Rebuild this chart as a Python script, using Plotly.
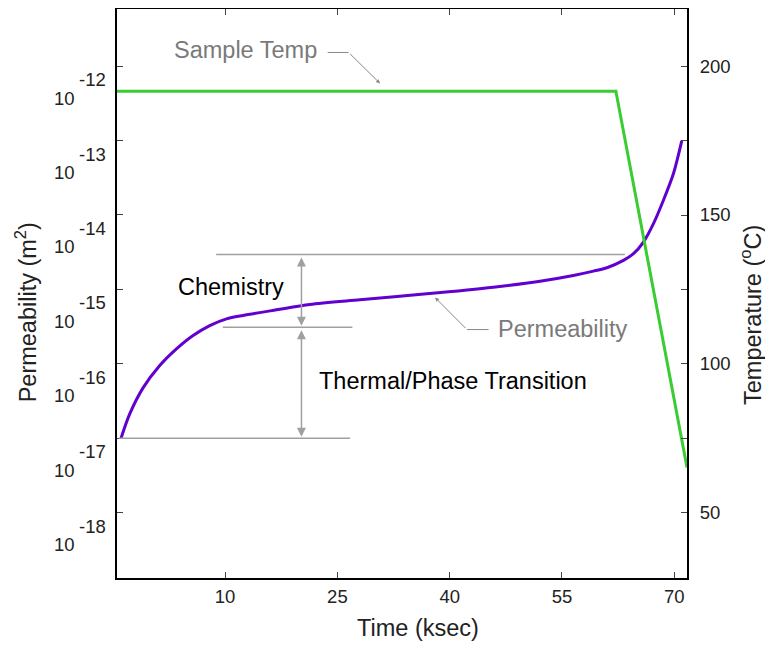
import plotly.graph_objects as go

# ---- data ----
time_perm = [-3.9, -2.74, -0.96, 1.27, 3.50, 5.72, 7.95, 10.19, 12.40, 16.87, 21.32, 28.0,
             36.92, 45.83, 52.07, 56.52, 59.2, 61.0, 63.21, 64.55, 65.88, 67.22, 68.55, 69.89, 71.0]
perm_log10 = [-17.0, -16.674, -16.324, -16.024, -15.80, -15.62, -15.486, -15.396, -15.35, -15.275,
              -15.203, -15.14, -15.06, -14.97, -14.89, -14.813, -14.755, -14.709, -14.611, -14.521,
              -14.365, -14.117, -13.803, -13.444, -13.005]
permeability = [10 ** v for v in perm_log10]

time_temp = [-4.44, 62.2, 71.7]
temperature = [191.6, 191.6, 65.2]

x_ticks = [10, 25, 40, 55, 70]
perm_tick_exps = [-18, -17, -16, -15, -14, -13, -12]
temp_ticks = [50, 75, 100, 125, 150, 175, 200]

# guide levels (log10 of permeability)
lvl_top = -14.53
lvl_mid = -15.51
lvl_bot = -17.0

FONT = "Liberation Sans, Arial, Helvetica, sans-serif"
GRAY = "#a0a0a0"
TGRAY = "#7a7a7a"
INK = "#222222"
TICK_SIZE = 18.5

fig = go.Figure()
fig.add_trace(go.Scatter(x=time_perm, y=permeability, mode="lines", yaxis="y",
                         line=dict(color="#6200CF", width=3, shape="spline", smoothing=0.8),
                         hoverinfo="skip", showlegend=False))
fig.add_trace(go.Scatter(x=time_temp, y=temperature, mode="lines", yaxis="y2",
                         line=dict(color="#3ACC33", width=3),
                         hoverinfo="skip", showlegend=False))

ann = []
def seg(x0, y0, x1, y1, yref="y", head=0, side="end", size=1, width=1.5, color=GRAY):
    ann.append(dict(x=x1, y=y1, ax=x0, ay=y0, xref="x", yref=yref, axref="x", ayref=yref,
                    text="", showarrow=True, arrowhead=head, arrowside=side,
                    arrowsize=size, arrowwidth=width, arrowcolor=color))

# horizontal guides
seg(8.6, lvl_top, 63.4, lvl_top)
seg(9.5, lvl_mid, 27.0, lvl_mid)
seg(-4.4, lvl_bot, 26.7, lvl_bot)
# double arrows
seg(20.2, lvl_top - 0.02, 20.2, lvl_mid + 0.02, head=2, side="end+start", size=1.2)
seg(20.2, lvl_mid - 0.02, 20.2, lvl_bot + 0.02, head=2, side="end+start", size=1.2)
# permeability leader
seg(45.4, -15.54, 42.3, -15.54, width=1, color="#888888")
seg(42.3, -15.54, 38.05, -15.11, head=2, size=0.8, width=1, color="#888888")
# sample temp leader
seg(23.5, 204.6, 26.5, 204.6, yref="y2", width=1, color="#888888")
seg(26.5, 204.6, 30.7, 194.2, yref="y2", head=2, size=0.8, width=1, color="#888888")

texts = [
    ("Chemistry", 10.73, -14.968, "y", "black"),
    ("Thermal/Phase Transition", 40.48, -16.226, "y", "black"),
    ("Permeability", 55.15, -15.53, "y", TGRAY),
    ("Sample Temp", 12.70, 205.5, "y2", TGRAY),
]
for t, x, y, yr, c in texts:
    ann.append(dict(x=x, y=y, xref="x", yref=yr, text=t, showarrow=False,
                    xanchor="center", yanchor="middle",
                    font=dict(family=FONT, size=23.5, color=c)))

# left-axis tick labels in "10 / exponent" style, placed on the log scale
for e in perm_tick_exps:
    ann.append(dict(x=-0.0699, y=e, xref="paper", yref="y", text="10", showarrow=False,
                    xanchor="right", yanchor="middle", yshift=-32,
                    font=dict(family=FONT, size=TICK_SIZE, color=INK)))
    ann.append(dict(x=-0.0155, y=e, xref="paper", yref="y", text="%d" % e, showarrow=False,
                    xanchor="right", yanchor="middle", yshift=-13.5,
                    font=dict(family=FONT, size=TICK_SIZE, color=INK)))

# axis titles
ann.append(dict(x=0.5272, y=-0.0884, xref="paper", yref="paper", text="Time (ksec)",
                xanchor="center", yanchor="middle",
                showarrow=False, font=dict(family=FONT, size=23.5, color=INK)))
ann.append(dict(x=-0.1593, y=0.4672, xref="paper", yref="paper", textangle=-90,
                xanchor="center", yanchor="middle",
                text="Permeability (m<sup>2</sup>)", showarrow=False,
                font=dict(family=FONT, size=23.5, color=INK)))
ann.append(dict(x=1.112, y=0.4619, xref="paper", yref="paper", textangle=-90,
                xanchor="center", yanchor="middle",
                text="Temperature (<sup>o</sup>C)", showarrow=False,
                font=dict(family=FONT, size=23.5, color=INK)))

fig.update_layout(
    width=765, height=639,
    margin=dict(l=109, r=86, t=1, b=69, autoexpand=False),
    paper_bgcolor="white", plot_bgcolor="white",
    font=dict(family=FONT, size=TICK_SIZE, color=INK),
    showlegend=False,
    annotations=ann,
    xaxis=dict(range=[-4.44, 71.7], tickvals=x_ticks, ticks="inside", ticklen=6,
               ticklabelstandoff=1, automargin=False,
               showline=True, linecolor="black", linewidth=2, mirror="ticks",
               showgrid=False, zeroline=False),
    yaxis=dict(type="log", range=[-18.878, -11.233],
               tickvals=[10 ** e for e in perm_tick_exps],
               showticklabels=False,
               ticks="inside", ticklen=6, automargin=False,
               showline=True, linecolor="black", linewidth=2,
               showgrid=False, zeroline=False),
    yaxis2=dict(overlaying="y", side="right", range=[28.06, 219.2],
                tickvals=temp_ticks,
                ticktext=[str(v) if v % 50 == 0 else "" for v in temp_ticks],
                ticks="inside", ticklen=6, ticklabelstandoff=7, automargin=False,
                showline=True, linecolor="black", linewidth=2,
                showgrid=False, zeroline=False),
)

fig.write_html("out.html")
